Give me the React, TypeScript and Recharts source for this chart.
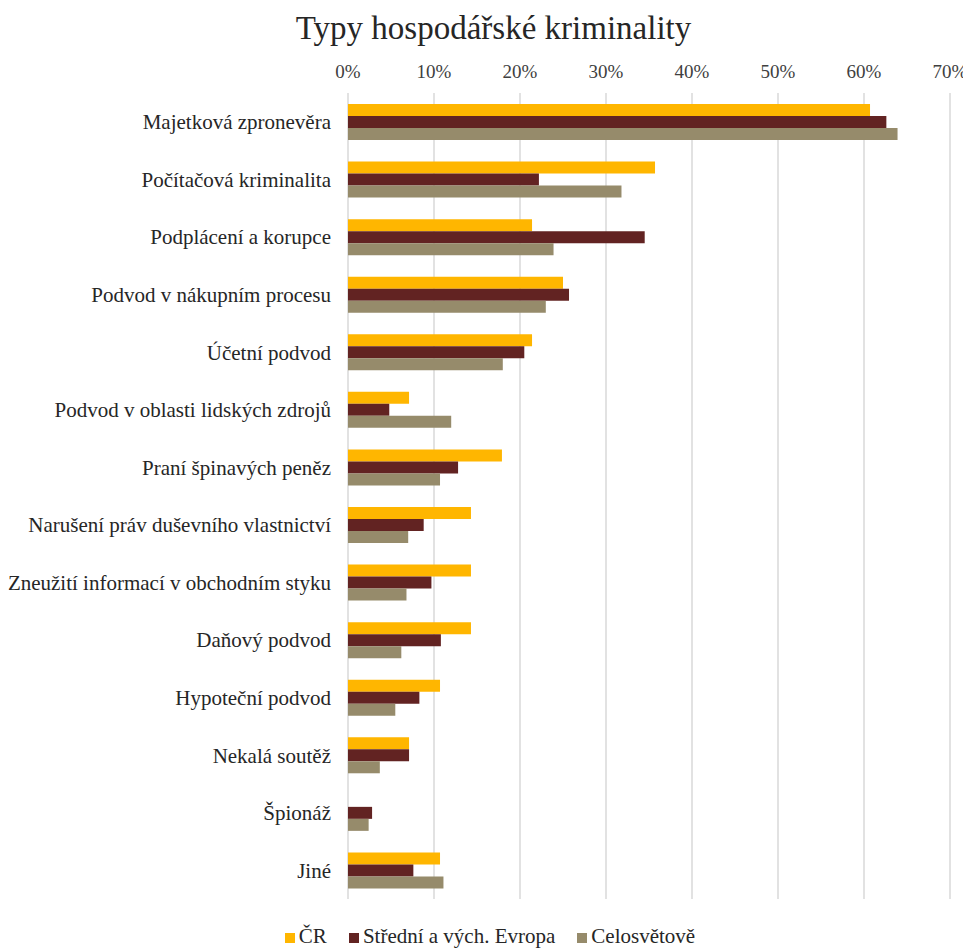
import { Bar, BarChart, CartesianGrid, Legend, XAxis, YAxis } from 'recharts';

const categories = [
  'Majetková zpronevěra',
  'Počítačová kriminalita',
  'Podplácení a korupce',
  'Podvod v nákupním procesu',
  'Účetní podvod',
  'Podvod v oblasti lidských zdrojů',
  'Praní špinavých peněz',
  'Narušení práv duševního vlastnictví',
  'Zneužití informací v obchodním styku',
  'Daňový podvod',
  'Hypoteční podvod',
  'Nekalá soutěž',
  'Špionáž',
  'Jiné'
];

// percentages per category, same order as above
const czValues = [60.7, 35.7, 21.4, 25.0, 21.4, 7.1, 17.9, 14.3, 14.3, 14.3, 10.7, 7.1, 0, 10.7];
const ceeValues = [62.6, 22.2, 34.5, 25.7, 20.5, 4.8, 12.8, 8.8, 9.7, 10.8, 8.3, 7.1, 2.8, 7.6];
const globalValues = [63.9, 31.8, 23.9, 23.0, 18.0, 12.0, 10.7, 7.0, 6.8, 6.2, 5.5, 3.7, 2.4, 11.1];

const xTicks = [0, 10, 20, 30, 40, 50, 60, 70];

const series = [
  { key: 'cz', name: 'ČR', color: '#ffb600' },
  { key: 'cee', name: 'Střední a vých. Evropa', color: '#622322' },
  { key: 'global', name: 'Celosvětově', color: '#968b6b' }
];

const FONT = '"Liberation Serif", serif';

const data = categories.map((name, i) => ({
  name,
  cz: czValues[i],
  cee: ceeValues[i],
  global: globalValues[i]
}));

// legend in series order (vertical layout would otherwise reverse it)
function LegendRow() {
  return (
    <div
      style={{
        display: 'flex',
        justifyContent: 'center',
        gap: 22,
        paddingLeft: 22,
        fontSize: 21,
        color: '#262626',
        lineHeight: '24px'
      }}
    >
      {series.map((s) => (
        <span key={s.key} style={{ display: 'flex', alignItems: 'center' }}>
          <span style={{ width: 10, height: 10, background: s.color, marginRight: 4, marginTop: 4 }} />
          {s.name}
        </span>
      ))}
    </div>
  );
}

export default function App() {
  return (
    <div style={{ position: 'relative', width: 963, height: 940, fontFamily: FONT }}>
      <div
        style={{
          position: 'absolute',
          top: 0,
          left: 0,
          width: 971,
          textAlign: 'center',
          fontSize: 33,
          lineHeight: '40px',
          color: '#262626'
        }}
      >
        Typy hospodářské kriminality
      </div>
      <BarChart
        width={963}
        height={940}
        data={data}
        layout="vertical"
        margin={{ top: 40, right: 21, left: 0, bottom: 25 }}
        barSize={12}
        barGap={0}
      >
        <CartesianGrid horizontal={false} stroke="#d9d9d9" strokeWidth={1.5} />
        <XAxis
          type="number"
          orientation="top"
          domain={[0, 70]}
          ticks={xTicks}
          tickFormatter={(v) => `${v}%`}
          height={45}
          axisLine={false}
          tickLine={false}
          tickMargin={9}
          tick={{ fill: '#404040', fontSize: 19, fontFamily: FONT }}
        />
        <YAxis
          type="category"
          dataKey="name"
          width={340}
          axisLine={false}
          tickLine={false}
          tickMargin={11}
          interval={0}
          tick={{ fill: '#262626', fontSize: 21, fontFamily: FONT }}
        />
        <Legend verticalAlign="bottom" height={24} wrapperStyle={{ bottom: 0 }} content={<LegendRow />} />
        {series.map((s) => (
          <Bar key={s.key} dataKey={s.key} name={s.name} fill={s.color} isAnimationActive={false} />
        ))}
      </BarChart>
    </div>
  );
}
